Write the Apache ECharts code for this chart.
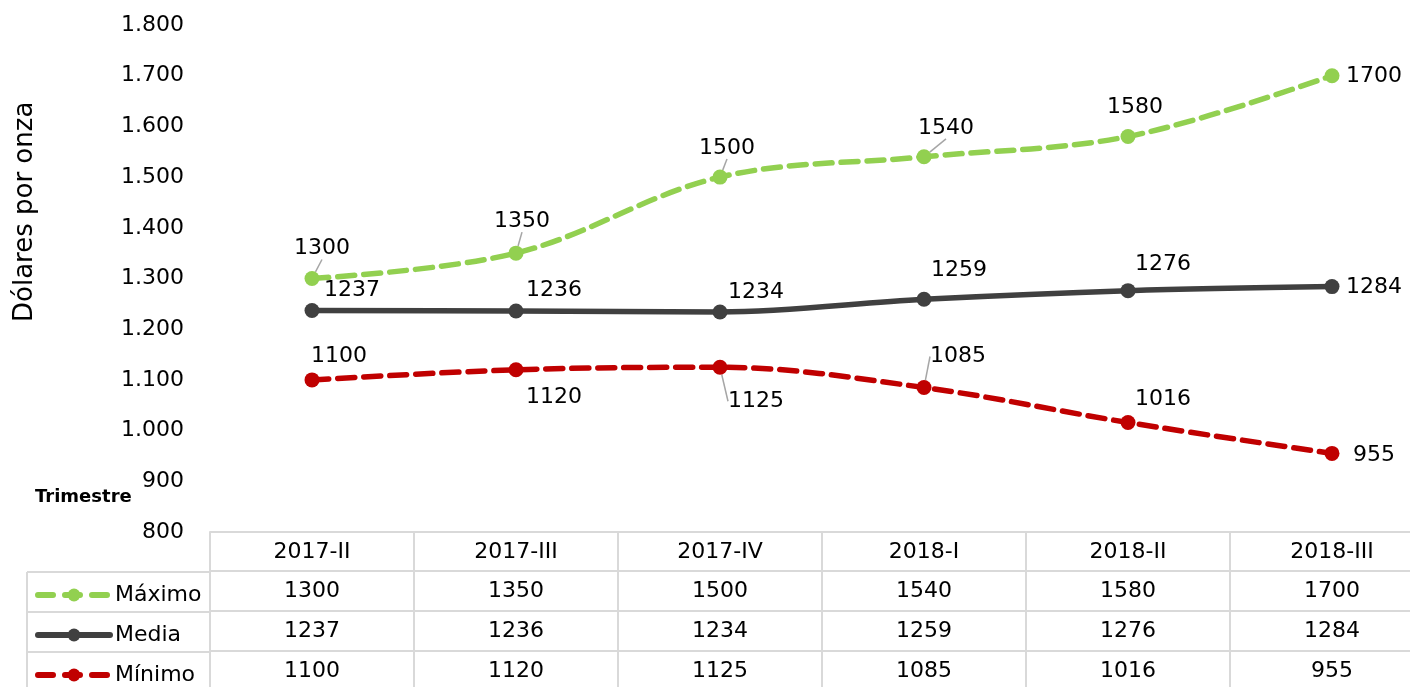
<!doctype html>
<html>
<head>
<meta charset="utf-8">
<title>Oro - precios trimestrales</title>
<script src="https://cdn.jsdelivr.net/npm/echarts@6/dist/echarts.min.js"></script>
<style>
  html, body { margin: 0; padding: 0; background: #fff; overflow: hidden; }
  /* the table's last column runs past the right edge in the original */
  #main { width: 1434px; height: 687px; }
</style>
</head>
<body>
<div id="main"></div>
<script>
var trimestres = ['2017-II', '2017-III', '2017-IV', '2018-I', '2018-II', '2018-III'];
var maximo = [1300, 1350, 1500, 1540, 1580, 1700];
var media = [1237, 1236, 1234, 1259, 1276, 1284];
var minimo = [1100, 1120, 1125, 1085, 1016, 955];

// label shift from the point (px) and whether a leader line is drawn
var shiftMax = [[10, -30], [6, -32], [7, -29], [22, -29], [7, -29], [42, 1]];
var shiftMed = [[40, -20], [38, -21], [36, -20], [35, -29], [35, -26], [42, 1]];
var shiftMin = [[27, -24], [38, 28], [36, 34], [34, -31], [35, -23], [42, 2]];
var guideMax = [true, true, true, true, false, false];
var guideMed = [false, false, false, false, false, false];
var guideMin = [false, false, true, true, false, false];

var FONT = 'DejaVu Sans';
var GRID_LINE = '#D9D9D9';
var ROW = 40;
var DASH = [17, 9];

var chart = echarts.init(document.getElementById('main'));

function fmtMiles(v) {
    return String(v).replace(/\B(?=(\d{3})+(?!\d))/g, '.');
}

function points(values, guides) {
    return values.map(function (v, i) {
        return { value: v, labelLine: { show: guides[i] } };
    });
}

function lineSeries(name, values, color, dashed, shifts, guides) {
    return {
        name: name,
        type: 'line',
        smooth: 0.35,
        symbol: 'circle',
        symbolSize: 15,
        color: color,
        lineStyle: { width: 5.5, color: color, type: dashed ? DASH : 'solid', cap: 'round' },
        itemStyle: { color: color },
        label: {
            show: true,
            position: 'inside',
            fontFamily: FONT,
            fontSize: 22,
            color: '#000'
        },
        labelLine: { show: false, lineStyle: { color: '#A6A6A6', width: 1.5 } },
        labelLayout: function (p) {
            var s = shifts[p.dataIndex];
            return { dx: s[0], dy: s[1] };
        },
        data: points(values, guides),
        z: 3
    };
}

function rowAxis(values, offset) {
    return {
        type: 'category',
        data: trimestres,
        position: 'bottom',
        offset: offset,
        boundaryGap: true,
        axisLine: { show: true, lineStyle: { color: GRID_LINE, width: 2 } },
        axisTick: { show: true, interval: 0, length: ROW, lineStyle: { color: GRID_LINE, width: 2 } },
        axisLabel: {
            interval: 0,
            margin: 9,
            fontFamily: FONT,
            fontSize: 22,
            color: '#000',
            formatter: function (val, idx) { return values === null ? val : String(values[idx]); }
        }
    };
}

function legendRow(name, top, dashed) {
    return {
        data: [name],
        orient: 'horizontal',
        left: 30,
        top: top,
        itemWidth: 72,
        itemHeight: 16,
        selectedMode: false,
        lineStyle: { width: 6, type: dashed ? [15, 12] : 'solid', cap: 'round' },
        textStyle: { fontFamily: FONT, fontSize: 22, color: '#000' }
    };
}

chart.setOption({
    animation: false,
    grid: { left: 210, right: 0, top: 25, bottom: 155, containLabel: false },
    legend: [
        legendRow('Máximo', 579, true),
        legendRow('Media', 619, false),
        legendRow('Mínimo', 659, true)
    ],
    xAxis: [
        rowAxis(null, 0),
        rowAxis(maximo, ROW - 1),
        rowAxis(media, 2 * ROW - 1),
        rowAxis(minimo, 3 * ROW - 1)
    ],
    yAxis: {
        type: 'value',
        min: 800,
        max: 1800,
        interval: 100,
        axisLine: { show: false },
        axisTick: { show: false },
        splitLine: { show: false },
        axisLabel: {
            margin: 26,
            fontFamily: FONT,
            fontSize: 22,
            color: '#000',
            formatter: fmtMiles
        }
    },
    graphic: [
        {
            type: 'text',
            x: 12,
            y: 322,
            rotation: Math.PI / 2,
            style: { text: 'Dólares por onza', fontFamily: FONT, fontSize: 26, fill: '#000' }
        },
        {
            type: 'text',
            left: 35,
            top: 488,
            style: { text: 'Trimestre', fontFamily: FONT, fontSize: 18, fontWeight: 'bold', fill: '#000' }
        },
        { type: 'line', shape: { x1: 27, y1: 572, x2: 210, y2: 572 }, style: { stroke: GRID_LINE, lineWidth: 2 } },
        { type: 'line', shape: { x1: 27, y1: 612, x2: 210, y2: 612 }, style: { stroke: GRID_LINE, lineWidth: 2 } },
        { type: 'line', shape: { x1: 27, y1: 652, x2: 210, y2: 652 }, style: { stroke: GRID_LINE, lineWidth: 2 } },
        { type: 'line', shape: { x1: 27, y1: 572, x2: 27, y2: 690 }, style: { stroke: GRID_LINE, lineWidth: 2 } }
    ],
    series: [
        lineSeries('Máximo', maximo, '#92D050', true, shiftMax, guideMax),
        lineSeries('Media', media, '#404040', false, shiftMed, guideMed),
        lineSeries('Mínimo', minimo, '#C00000', true, shiftMin, guideMin)
    ]
});

window.onresize = chart.resize;
</script>
</body>
</html>
